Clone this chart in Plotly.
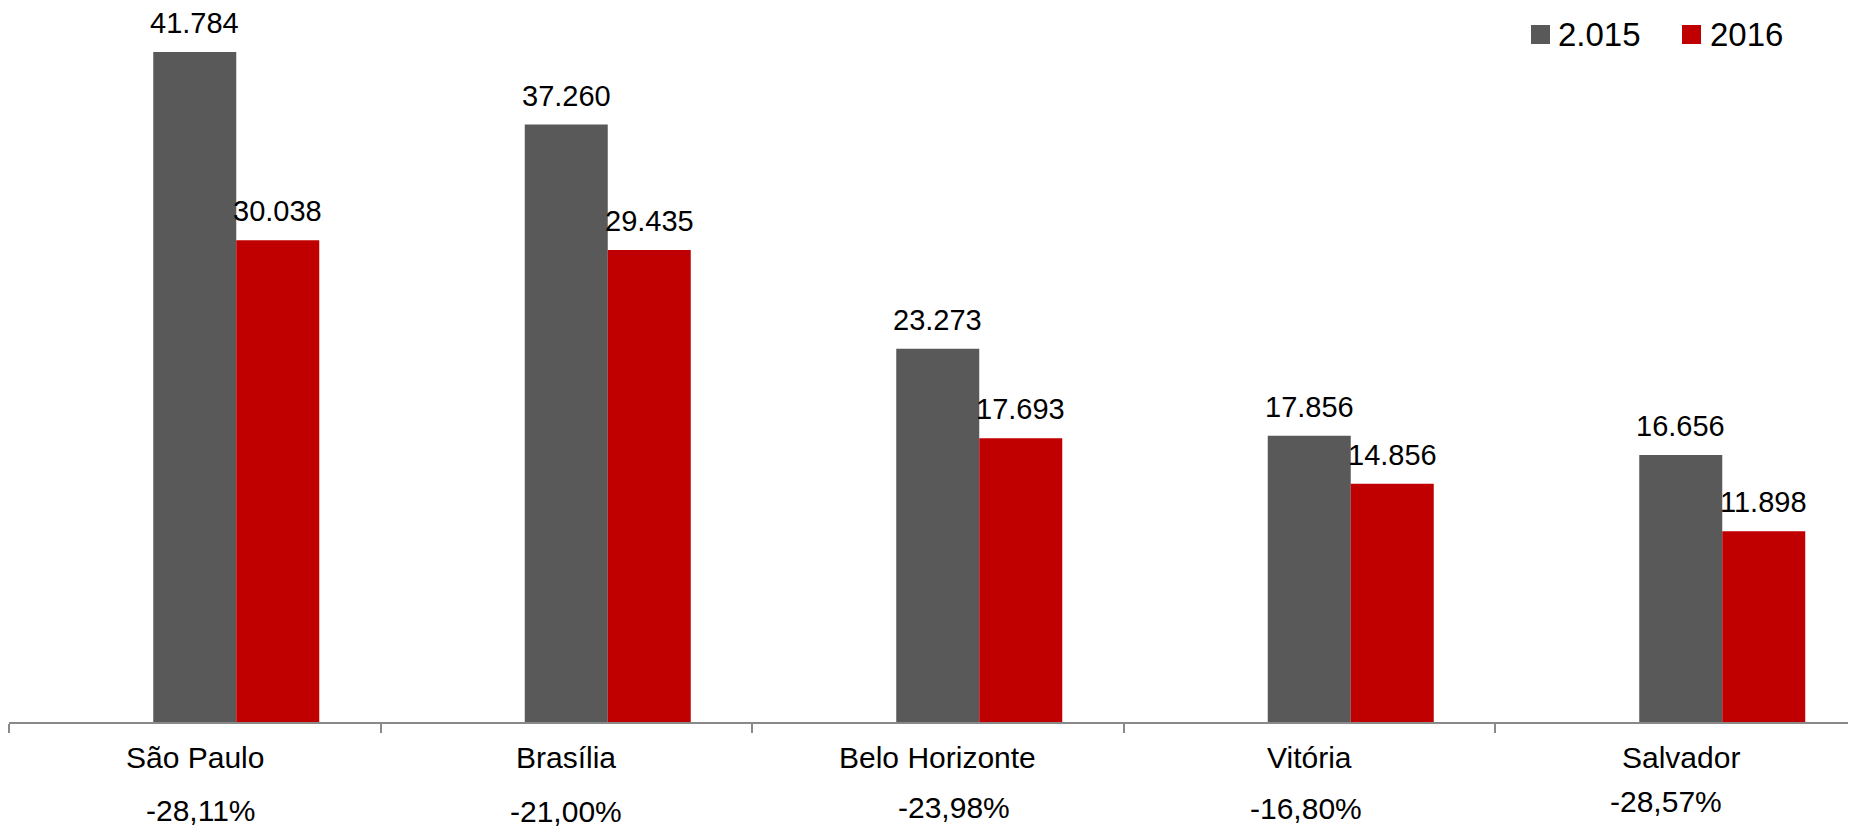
import plotly.graph_objects as go

# ---- data ----
cities = ["São Paulo", "Brasília", "Belo Horizonte", "Vitória", "Salvador"]
series_names = ["2.015", "2016"]
values_2015 = [41784, 37260, 23273, 17856, 16656]
values_2016 = [30038, 29435, 17693, 14856, 11898]
change_labels = ["-28,11%", "-21,00%", "-23,98%", "-16,80%", "-28,57%"]

# ---- style ----
GRAY = "#595959"
RED = "#C00000"
AXIS = "#898989"
FONT = "Liberation Sans, Arial, sans-serif"
OFF = 8                      # default page (body) margin in the browser
W, H = 1856 - OFF, 829 - OFF
AXIS_PAGE_Y = 722            # page y of the category axis
ML = 9 - OFF
MT = 0
PLOT_H = AXIS_PAGE_Y - OFF - MT
MB = H - MT - PLOT_H
PLOT_W = W - ML
CAT_PX = 371.5
BAR_W = 83 / CAT_PX
Y_PER_PX = 1 / 0.016035

x_idx = list(range(len(cities)))


def fmt(v):
    return f"{v:,}".replace(",", ".")


fig = go.Figure()
fig.add_trace(go.Bar(x=x_idx, y=values_2015, name=series_names[0], width=BAR_W,
                     offset=-0.5 * BAR_W, marker=dict(color=GRAY, line=dict(width=0)),
                     showlegend=False, hoverinfo="skip"))
fig.add_trace(go.Bar(x=x_idx, y=values_2016, name=series_names[1], width=BAR_W,
                     offset=0.5 * BAR_W, marker=dict(color=RED, line=dict(width=0)),
                     showlegend=False, hoverinfo="skip"))

ann = []
# data labels
for i, v in enumerate(values_2015):
    ann.append(dict(x=i, y=v, xref="x", yref="y", text=fmt(v), showarrow=False,
                    xanchor="center", yanchor="bottom", yshift=11,
                    font=dict(size=29, color="black", family=FONT)))
for i, v in enumerate(values_2016):
    ann.append(dict(x=i + BAR_W, y=v, xref="x", yref="y", text=fmt(v), showarrow=False,
                    xanchor="center", yanchor="bottom", yshift=11,
                    font=dict(size=29, color="black", family=FONT)))
# category labels (page y of text centre)
for i, c in enumerate(cities):
    ann.append(dict(x=i, y=0, xref="x", yref="paper", text=c, showarrow=False,
                    xanchor="center", yanchor="middle", yshift=-(757 - AXIS_PAGE_Y),
                    font=dict(size=30, color="black", family=FONT)))
# percentage change labels
pct_dx = [6, 0, 16, -3, -15]
pct_cy = [810, 811, 807, 808, 801]
for i, t in enumerate(change_labels):
    ann.append(dict(x=i, y=0, xref="x", yref="paper", text=t, showarrow=False,
                    xanchor="center", yanchor="middle", xshift=pct_dx[i],
                    yshift=-(pct_cy[i] - AXIS_PAGE_Y),
                    font=dict(size=30, color="black", family=FONT)))


# manual legend (page pixel coordinates -> paper)
def px_x(p):
    return (p - OFF - ML) / PLOT_W


def px_y(p):
    return (AXIS_PAGE_Y - p) / PLOT_H


shapes = []
legend_items = [(series_names[0], GRAY, 1531, 1556), (series_names[1], RED, 1682, 1708)]
for name, col, sx, tx in legend_items:
    shapes.append(dict(type="rect", xref="paper", yref="paper",
                       x0=px_x(sx), x1=px_x(sx + 19), y0=px_y(44), y1=px_y(25),
                       fillcolor=col, line=dict(width=0)))
    ann.append(dict(x=px_x(tx), y=px_y(35), xref="paper", yref="paper", text=name,
                    showarrow=False, xanchor="left", yanchor="middle",
                    font=dict(size=33, color="black", family=FONT)))

fig.update_layout(
    width=W, height=H,
    margin=dict(l=ML, r=0, t=MT, b=MB, pad=0),
    paper_bgcolor="white", plot_bgcolor="white",
    barmode="overlay",
    showlegend=False,
    annotations=ann,
    shapes=shapes,
    font=dict(family=FONT, size=29, color="black"),
    xaxis=dict(range=[-0.5, -0.5 + PLOT_W / CAT_PX], showgrid=False, zeroline=False,
               showline=True, linecolor=AXIS, linewidth=1.5,
               tickmode="array", tickvals=[i - 0.5 for i in range(len(cities) + 1)],
               ticks="outside", ticklen=9, tickcolor=AXIS, tickwidth=1.5,
               showticklabels=False, fixedrange=True),
    yaxis=dict(range=[0, PLOT_H * Y_PER_PX], visible=False, fixedrange=True),
)

fig.write_html("out.html", config={"displayModeBar": False})
